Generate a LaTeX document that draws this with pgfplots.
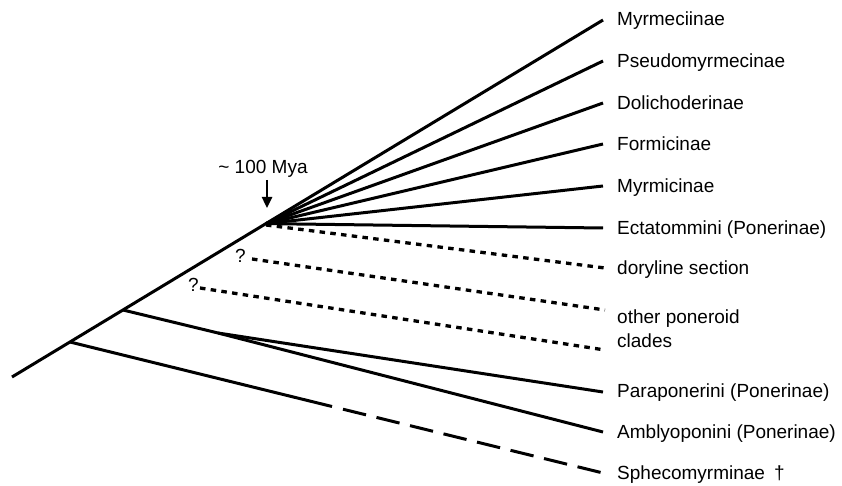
\documentclass[border=0pt]{standalone}
\usepackage{pgfplots}
\pgfplotsset{compat=1.18}
\usepackage{fontspec}
\setmainfont{Liberation Sans}
\usetikzlibrary{arrows.meta}
\tikzset{lbl/.style={font=\fontsize{19}{23}\selectfont, inner sep=0pt, anchor=base west}}
\begin{document}
\begin{tikzpicture}
\begin{axis}[
  x=1pt, y=1pt, y dir=reverse,
  xmin=0, xmax=842, ymin=0, ymax=486,
  hide axis, clip=false,
]
\path (axis cs:0,0) rectangle (axis cs:842,486);
% solid branches
\addplot[black, line width=3pt] coordinates {(12,377) (603,20)};
\addplot[black, line width=3pt] coordinates {(266,223.6) (603,61)};
\addplot[black, line width=3pt] coordinates {(266,223.6) (603,103)};
\addplot[black, line width=3pt] coordinates {(266,223.6) (603,144)};
\addplot[black, line width=3pt] coordinates {(266,223.6) (603,186)};
\addplot[black, line width=3pt] coordinates {(266,223.6) (603,228)};
\addplot[black, line width=3pt] coordinates {(123,310) (218,333) (603,432)};
\addplot[black, line width=3pt] coordinates {(218,333) (603,392)};
\addplot[black, line width=3pt] coordinates {(70,342) (332,406.5)};
% dashed fossil branch
\addplot[black, line width=3pt, dash pattern=on 23.7pt off 10.8pt] coordinates {(343,409.2) (603,473)};
% dotted branches
\addplot[black, line width=3.3pt, dash pattern=on 5.5pt off 5.3pt] coordinates {(266,225) (605,268)};
\addplot[black, line width=3.3pt, dash pattern=on 5.5pt off 5.3pt] coordinates {(252,259) (605,310)};
\addplot[black, line width=3.3pt, dash pattern=on 5.5pt off 5.3pt] coordinates {(200,288) (605,350)};
% arrow and annotations
\draw[black, line width=2.4pt, -{Triangle[length=11pt,width=10pt]}] (axis cs:267,180) -- (axis cs:267,208);
\node[lbl, anchor=base] at (axis cs:263,174) {\textasciitilde\ 100 Mya};
\node[lbl] at (axis cs:235,262) {?};
\node[lbl] at (axis cs:188,291) {?};
% labels
\node[lbl] at (axis cs:617,26) {Myrmeciinae};
\node[lbl] at (axis cs:617,68) {Pseudomyrmecinae};
\node[lbl] at (axis cs:617,110) {Dolichoderinae};
\node[lbl] at (axis cs:617,151) {Formicinae};
\node[lbl] at (axis cs:617,193) {Myrmicinae};
\node[lbl] at (axis cs:617,234) {Ectatommini (Ponerinae)};
\node[lbl] at (axis cs:617,274) {doryline section};
\node[lbl] at (axis cs:617,323) {other poneroid};
\node[lbl] at (axis cs:617,347) {clades};
\node[lbl] at (axis cs:617,397) {Paraponerini (Ponerinae)};
\node[lbl] at (axis cs:617,438) {Amblyoponini (Ponerinae)};
\node[lbl] at (axis cs:617,479) {Sphecomyrminae\hspace{9pt}\textdagger};
\end{axis}
\end{tikzpicture}
\end{document}
